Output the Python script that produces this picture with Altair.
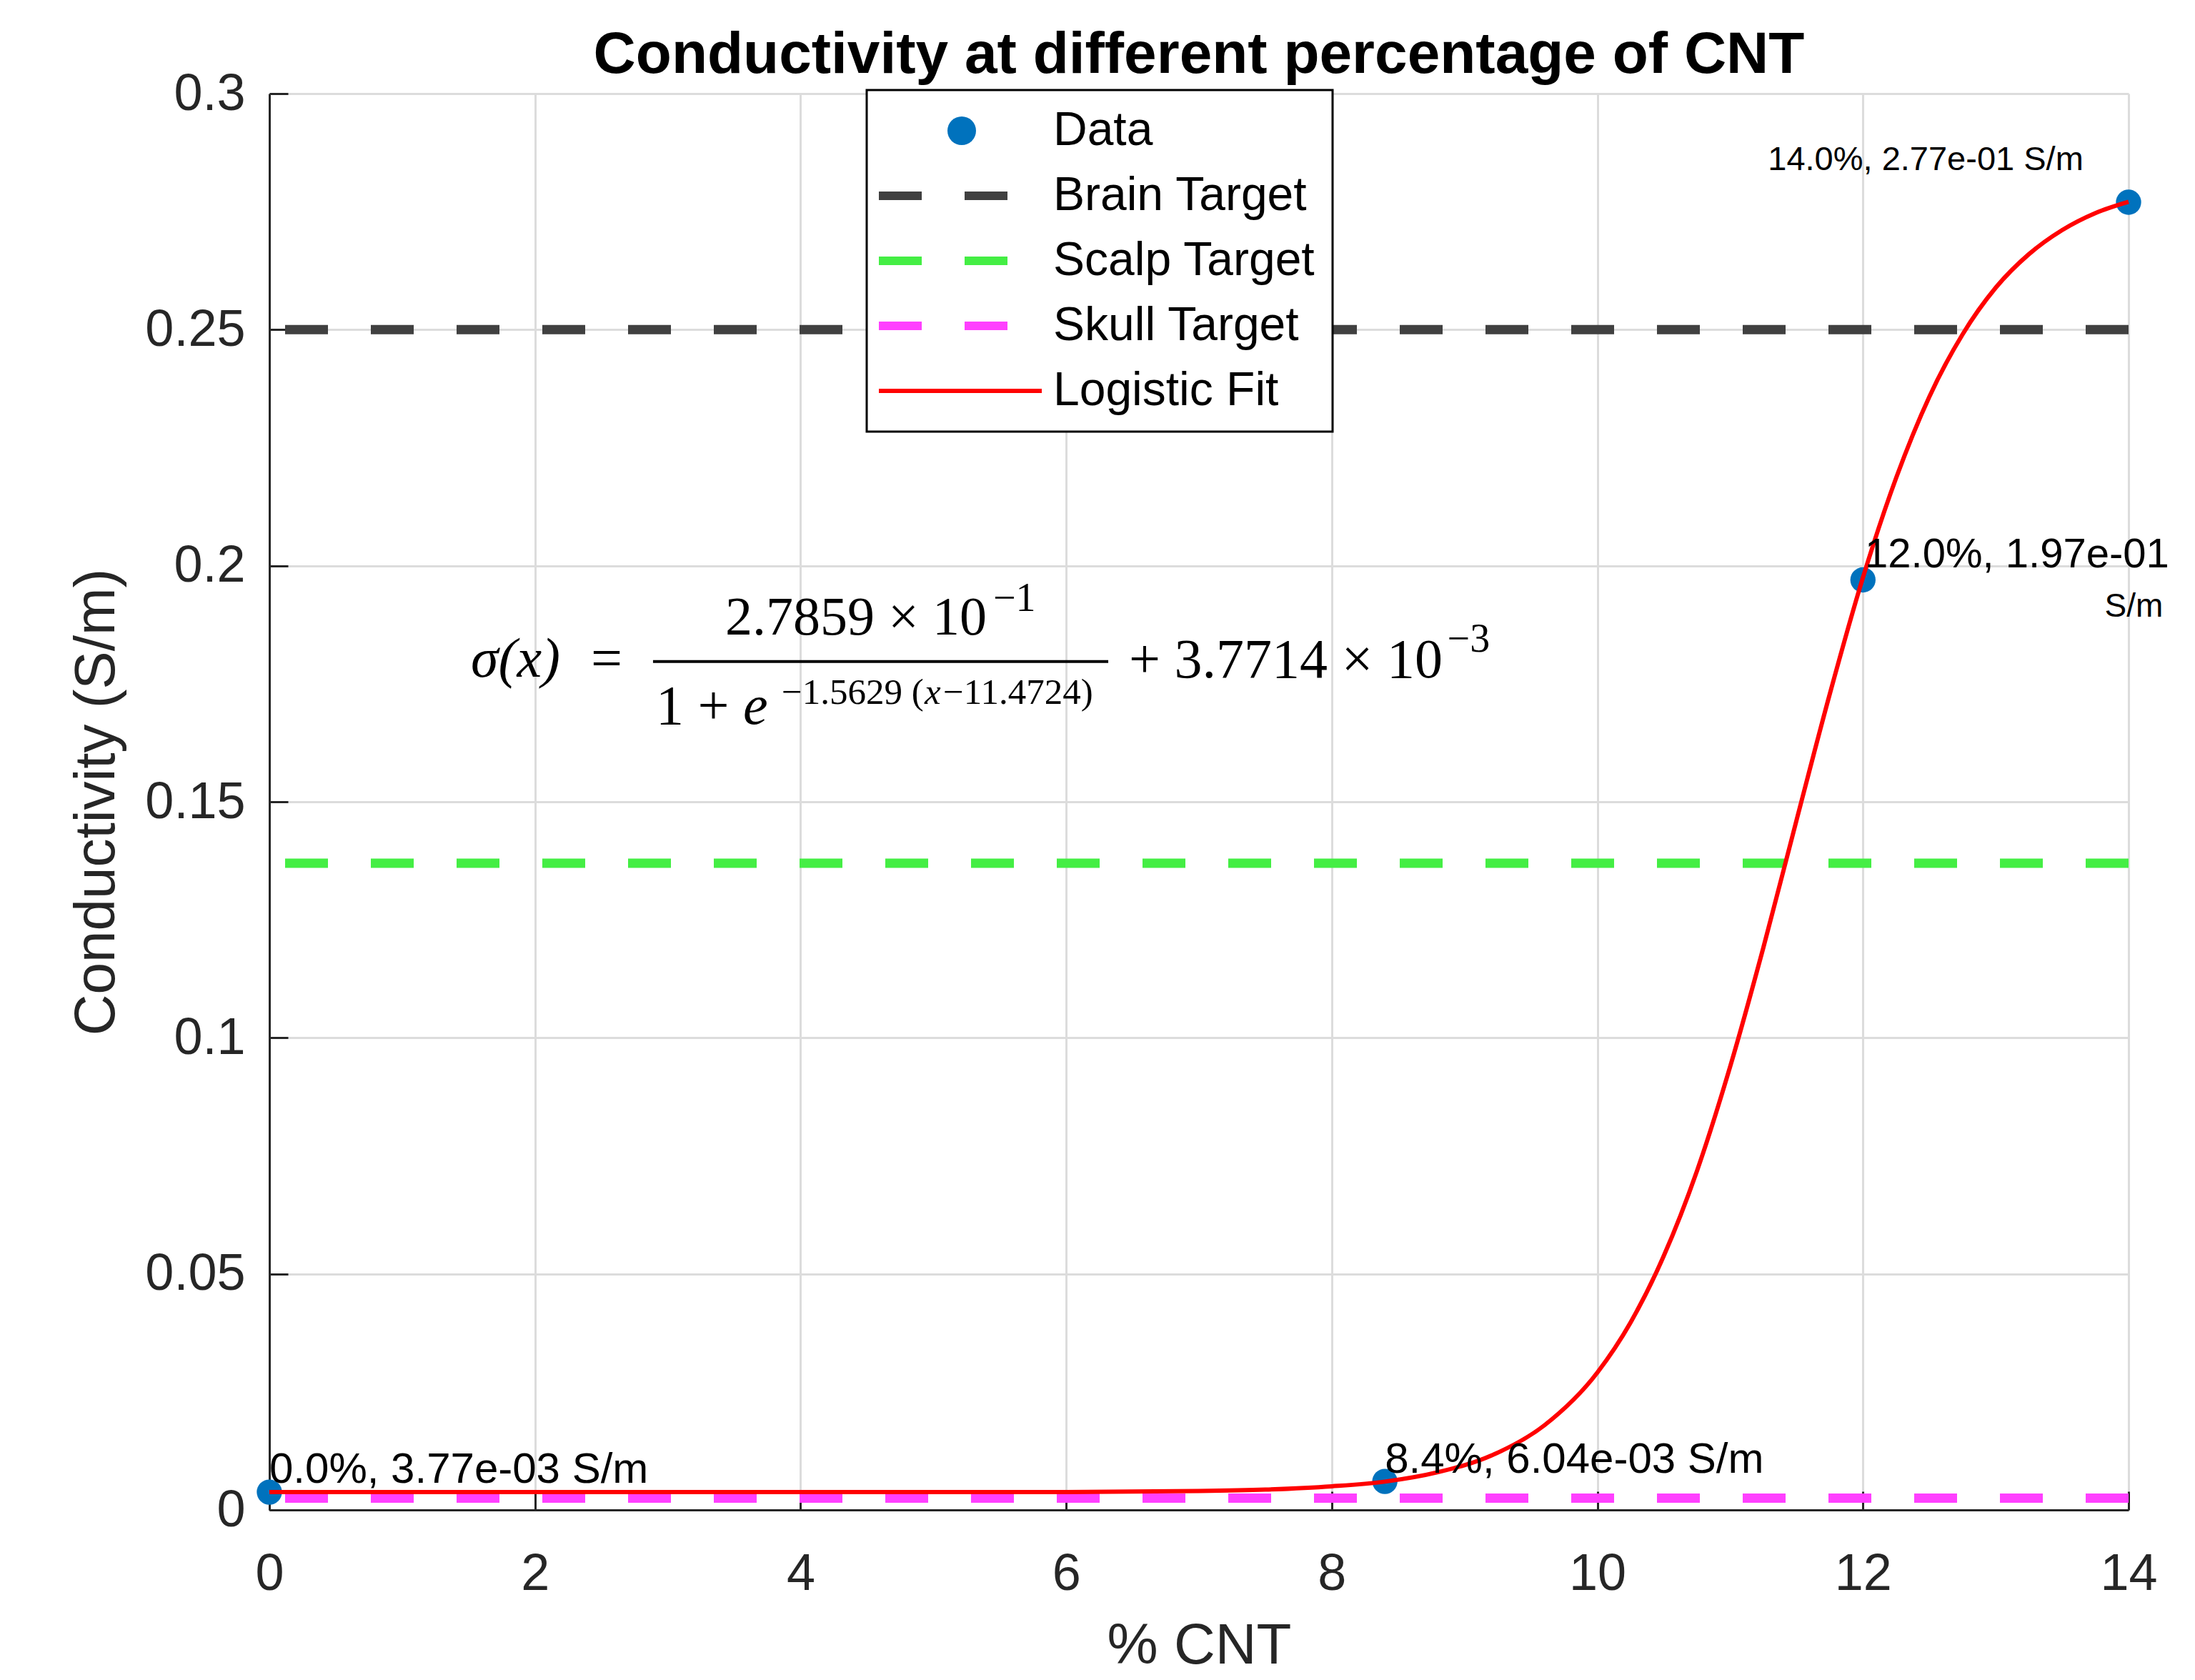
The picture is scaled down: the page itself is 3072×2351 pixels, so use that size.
import altair as alt
import pandas as pd

# ---------------- data ----------------
cnt_pct = [0.0, 8.4, 12.0, 14.0]
conductivity = [0.00377, 0.00604, 0.197, 0.277]

target_names = ["Brain Target", "Scalp Target", "Skull Target"]
target_values = [0.25, 0.137, 0.0025]

fit_x = [0, 1, 2, 3, 4, 5, 6, 7, 7.5, 8, 8.4, 8.8, 9.2, 9.6, 10, 10.25, 10.5,
         10.75, 11, 11.25, 11.5, 11.75, 12, 12.25, 12.5, 12.75, 13, 13.25,
         13.5, 13.75, 14]
fit_y = [0.0038, 0.0038, 0.0038, 0.0038, 0.0038, 0.0038, 0.0038, 0.0040,
         0.0043, 0.0050, 0.0060, 0.0080, 0.0115, 0.0179, 0.0291, 0.0397,
         0.0538, 0.0718, 0.0939, 0.1191, 0.1461, 0.1728, 0.1975, 0.2186,
         0.2358, 0.2490, 0.2589, 0.2660, 0.2711, 0.2747, 0.2771]

series_names = ["Data", "Brain Target", "Scalp Target", "Skull Target", "Logistic Fit"]
series_colors = ["#0072BD", "#404040", "#44EE44", "#FF40FF", "#FF0000"]

x_ticks = [0, 2, 4, 6, 8, 10, 12, 14]
y_ticks = [0, 0.05, 0.1, 0.15, 0.2, 0.25, 0.3]

# point labels (anchors in data units)
lab_left_text = ["0.0%, 3.77e-03 S/m", "8.4%, 6.04e-03 S/m", "12.0%, 1.97e-01"]
lab_left_x = [0.0, 8.40, 12.015]
lab_left_y = [0.00575, 0.0079, 0.1996]
lab_left_size = [60, 60, 58]

lab_right_text = ["S/m", "14.0%, 2.77e-01 S/m"]
lab_right_x = [14.26, 13.66]
lab_right_y = [0.1892, 0.2838]
lab_right_size = [46, 47]

# equation pieces (anchors in data units)
eq_text = ["=", "2.7859 × 10", "−1", "1 +", "−1.5629 (", "−11.4724)", "+ 3.7714 × 10", "−3"]
eq_x = [2.421, 3.433, 5.45, 2.911, 3.858, 5.074, 6.473, 8.87]
eq_y = [0.1765, 0.1854, 0.1904, 0.1665, 0.1707, 0.1707, 0.1763, 0.1818]
eq_size = [78, 76, 56, 78, 51, 51, 78, 56]

eq_it_text = ["σ(x)", "e", "x"]
eq_it_x = [1.517, 3.567, 4.934]
eq_it_y = [0.1765, 0.1665, 0.1707]
eq_it_size = [78, 78, 51]

bar_x = [2.889]
bar_x2 = [6.317]
bar_y = [0.1797]

# ---------------- build ----------------
SANS = "Liberation Sans"
SERIF = "Liberation Serif"
AX = "#262626"

xscale = alt.Scale(domain=[0, 14], nice=False, zero=False)
yscale = alt.Scale(domain=[0, 0.3], nice=False, zero=False)
cscale = alt.Scale(domain=series_names, range=series_colors)

main_x_axis = alt.Axis(values=x_ticks, title="% CNT", grid=True, gridColor="#dcdcdc",
                       gridWidth=3, ticks=False, domainColor=AX, domainWidth=3,
                       labelFont=SANS, labelFontSize=72, labelColor=AX, labelPadding=54,
                       labelFlush=False, titleFont=SANS, titleFontSize=80,
                       titleFontWeight="normal", titleColor=AX, titlePadding=26)
main_y_axis = alt.Axis(values=y_ticks, format="~g", title="Conductivity (S/m)", grid=True,
                       gridColor="#dcdcdc", gridWidth=3, ticks=False, domainColor=AX,
                       domainWidth=3, labelFont=SANS, labelFontSize=72, labelColor=AX,
                       labelPadding=34, labelFlush=False, titleFont=SANS, titleFontSize=80,
                       titleFontWeight="normal", titleColor=AX, titlePadding=26)
tick_x_axis = alt.Axis(values=x_ticks, orient="bottom", offset=-26, tickSize=26, ticks=True,
                       tickColor=AX, tickWidth=3, domain=False, labels=False, grid=False,
                       title=None)
tick_y_axis = alt.Axis(values=y_ticks, orient="left", offset=-26, tickSize=26, ticks=True,
                       tickColor=AX, tickWidth=3, domain=False, labels=False, grid=False,
                       title=None)

def color_expr():
    parts = ""
    for n, c in zip(series_names, series_colors):
        parts += f"datum.value === '{n}' ? '{c}' : "
    return parts + "'black'"

dashed = "[" + ",".join(f"'{n}'" for n in target_names) + "]"

legend = alt.Legend(
    title=None, orient="none", legendX=836, legendY=-5,
    fillColor="white", strokeColor="black", padding=24, rowPadding=25,
    labelFont=SANS, labelFontSize=66, labelColor="black", labelLimit=0,
    labelOffset=95, symbolOffset=76, symbolSize=1600,
    symbolType=alt.ExprRef("datum.value === 'Data' ? 'circle' : 'M-5.8,0H5.6'"),
    symbolStrokeColor=alt.ExprRef(color_expr()),
    symbolFillColor=alt.ExprRef(color_expr()),
    symbolStrokeWidth=alt.ExprRef(
        "datum.value === 'Data' ? 0 : (datum.value === 'Logistic Fit' ? 6 : 12)"),
    symbolDash=alt.ExprRef(f"indexof({dashed}, datum.value) >= 0 ? [60, 60] : [400, 0]"),
    symbolOpacity=1,
)

points_df = pd.DataFrame({"cnt": cnt_pct, "cond": conductivity, "series": "Data"})
targets_df = pd.DataFrame({"value": target_values, "series": target_names})
fit_df = pd.DataFrame({"cnt": fit_x, "cond": fit_y, "series": "Logistic Fit"})

rules = alt.Chart(targets_df).mark_rule(strokeDash=[60, 60], strokeWidth=13).encode(
    y=alt.Y("value:Q", scale=yscale, axis=None),
    color=alt.Color("series:N", scale=cscale, legend=legend),
)

points = alt.Chart(points_df).mark_circle(size=1250, opacity=1).encode(
    x=alt.X("cnt:Q", scale=xscale, axis=main_x_axis),
    y=alt.Y("cond:Q", scale=yscale, axis=main_y_axis),
    color=alt.Color("series:N", scale=cscale, legend=legend),
)

fit = alt.Chart(fit_df).mark_line(strokeWidth=6, interpolate="monotone").encode(
    x=alt.X("cnt:Q", scale=xscale, axis=tick_x_axis),
    y=alt.Y("cond:Q", scale=yscale, axis=tick_y_axis),
    color=alt.Color("series:N", scale=cscale, legend=legend),
)

def text_layer(texts, xs, ys, sizes, align, font, style="normal"):
    df = pd.DataFrame({"t": texts, "x": xs, "y": ys, "s": sizes})
    return alt.Chart(df).mark_text(align=align, baseline="alphabetic", font=font,
                                   fontStyle=style, color="black").encode(
        x=alt.X("x:Q", scale=xscale, axis=None),
        y=alt.Y("y:Q", scale=yscale, axis=None),
        text="t:N",
        size=alt.Size("s:Q", scale=None, legend=None),
    )

lab_left = text_layer(lab_left_text, lab_left_x, lab_left_y, lab_left_size, "left", SANS)
lab_right = text_layer(lab_right_text, lab_right_x, lab_right_y, lab_right_size, "right", SANS)
eq_norm = text_layer(eq_text, eq_x, eq_y, eq_size, "left", SERIF)
eq_ital = text_layer(eq_it_text, eq_it_x, eq_it_y, eq_it_size, "left", SERIF, "italic")

bar = alt.Chart(pd.DataFrame({"x": bar_x, "x2": bar_x2, "y": bar_y})).mark_rule(
    strokeWidth=4, color="black").encode(
    x=alt.X("x:Q", scale=xscale, axis=None),
    x2="x2:Q",
    y=alt.Y("y:Q", scale=yscale, axis=None),
)

chart = alt.layer(rules, points, fit, lab_left, lab_right, eq_norm, eq_ital, bar).resolve_axis(
    x="independent", y="independent"
).properties(
    width=2602, height=1982,
    title=alt.TitleParams("Conductivity at different percentage of CNT", font=SANS,
                          fontSize=82, fontWeight="bold", color="black", anchor="middle",
                          frame="group", offset=-24),
    padding={"left": 369, "top": 123, "right": 85, "bottom": 230},
    autosize=alt.AutoSizeParams(type="none"),
    background="white",
).configure_view(stroke=None).configure_legend(strokeWidth=3)

chart.save("out.html", embed_options={"renderer": "svg", "actions": False})
